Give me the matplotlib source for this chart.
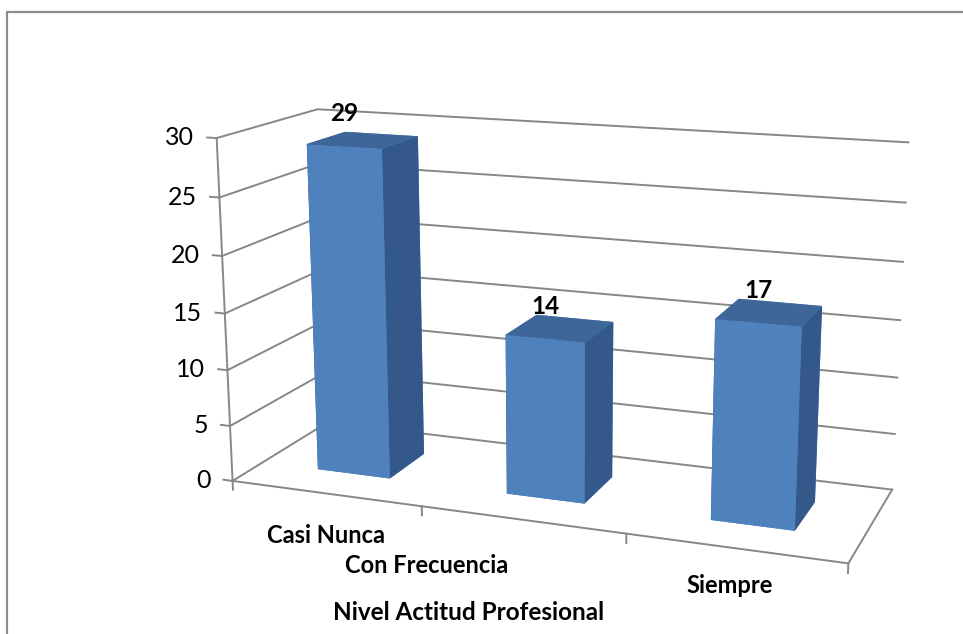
import matplotlib
matplotlib.use("Agg")
import matplotlib.pyplot as plt
from matplotlib.patches import Rectangle
from mpl_toolkits.mplot3d import proj3d
import numpy as np

# ---- data ----
categories = ["Casi Nunca", "Con Frecuencia", "Siempre"]
values = [29, 14, 17]
value_ticks = [0, 5, 10, 15, 20, 25, 30]
axis_title = "Nivel Actitud Profesional"

plt.rcParams['font.family'] = ['Lato', 'DejaVu Sans']

W, H = 963, 634
fig = plt.figure(figsize=(W / 100, H / 100), dpi=100)
fig.patch.set_facecolor('white')

# chart-area frame (runs off the right and bottom edges)
fig.add_artist(Rectangle((7 / W, -0.1), 1.1, (H - 12) / H + 0.1,
                         transform=fig.transFigure, fill=False,
                         edgecolor='#8c8c8c', lw=1.6))

# square 3-D panel centred on the plot box
S, cx, cy = 900, 548, 329
ax = fig.add_axes([(cx - S / 2) / W, (H - cy - S / 2) / H, S / W, S / H],
                  projection='3d', computed_zorder=False)
ax.patch.set_alpha(0)
ax.set_proj_type('persp', focal_length=0.384)
ax.view_init(elev=14.5, azim=-69.5, roll=0)
ax.set_box_aspect((1, 0.33, 0.555), zoom=0.824)
ncat = len(categories)
ax.set_xlim(0, ncat)
ax.set_ylim(0, 1)
ax.set_zlim(0, value_ticks[-1])
ax.set_axis_off()

grid_c = '#878787'
lkw = dict(color=grid_c, lw=1.4, zorder=1, clip_on=False)

# value gridlines on the left wall and back wall
for v in value_ticks:
    ax.plot([0, 0, ncat], [0, 1, 1], [v, v, v], **lkw)
# floor outline
ax.plot([0, ncat, ncat], [0, 0, 1], [0, 0, 0], **lkw)
# value axis and its ticks
ax.plot([0, 0], [0, 0], [0, value_ticks[-1]], **lkw)
for v in value_ticks:
    ax.plot([-0.05, 0], [0, 0], [v, v], **lkw)
# category axis ticks
for i in range(ncat + 1):
    ax.plot([i, i], [0, 0], [0, -0.8], **lkw)

# bars
bw, bd, by = 0.39, 0.40, 0.30
front, top, side = '#4F81BD', '#3E6699', '#34588A'
xs = np.arange(ncat) + 0.5 - bw / 2
face_colors = []
for _ in values:
    # bottom, top, front(-y), back(+y), left(-x), right(+x)
    face_colors += [front, top, front, front, side, side]
bars = ax.bar3d(xs, np.full(ncat, by), np.zeros(ncat), bw, bd, values,
                color=face_colors, shade=False, zorder=2, linewidth=0)
bars.set_clip_on(False)

# 2-D labels anchored at projected 3-D points
fig.canvas.draw()
M = ax.get_proj()


def to_fig(x, y, z):
    px, py, _ = proj3d.proj_transform(x, y, z, M)
    disp = ax.transData.transform((px, py))
    return fig.transFigure.inverted().transform(disp)


for v in value_ticks:
    fx, fy = to_fig(-0.05, 0, v)
    fig.text(fx - 13 / W, fy - 8 / H, str(v), ha='right', va='baseline',
             fontsize=18, color='black')

for i, v in enumerate(values):
    fx, fy = to_fig(i + 0.5, by, v)
    fig.text(fx, fy + 25 / H, str(v), ha='center', va='baseline',
             fontsize=17.5, fontweight='bold', color='black')

# category labels and axis title
cat_pos = [(326, 543), (427, 573), (730, 593)]
for lab, (px, py) in zip(categories, cat_pos):
    fig.text(px / W, 1 - py / H, lab, ha='center', va='baseline',
             fontsize=17, fontweight='bold')
fig.text(469 / W, 1 - 620 / H, axis_title, ha='center', va='baseline',
         fontsize=17.5, fontweight='bold')

fig.savefig('out.png', dpi=100, facecolor='white')
